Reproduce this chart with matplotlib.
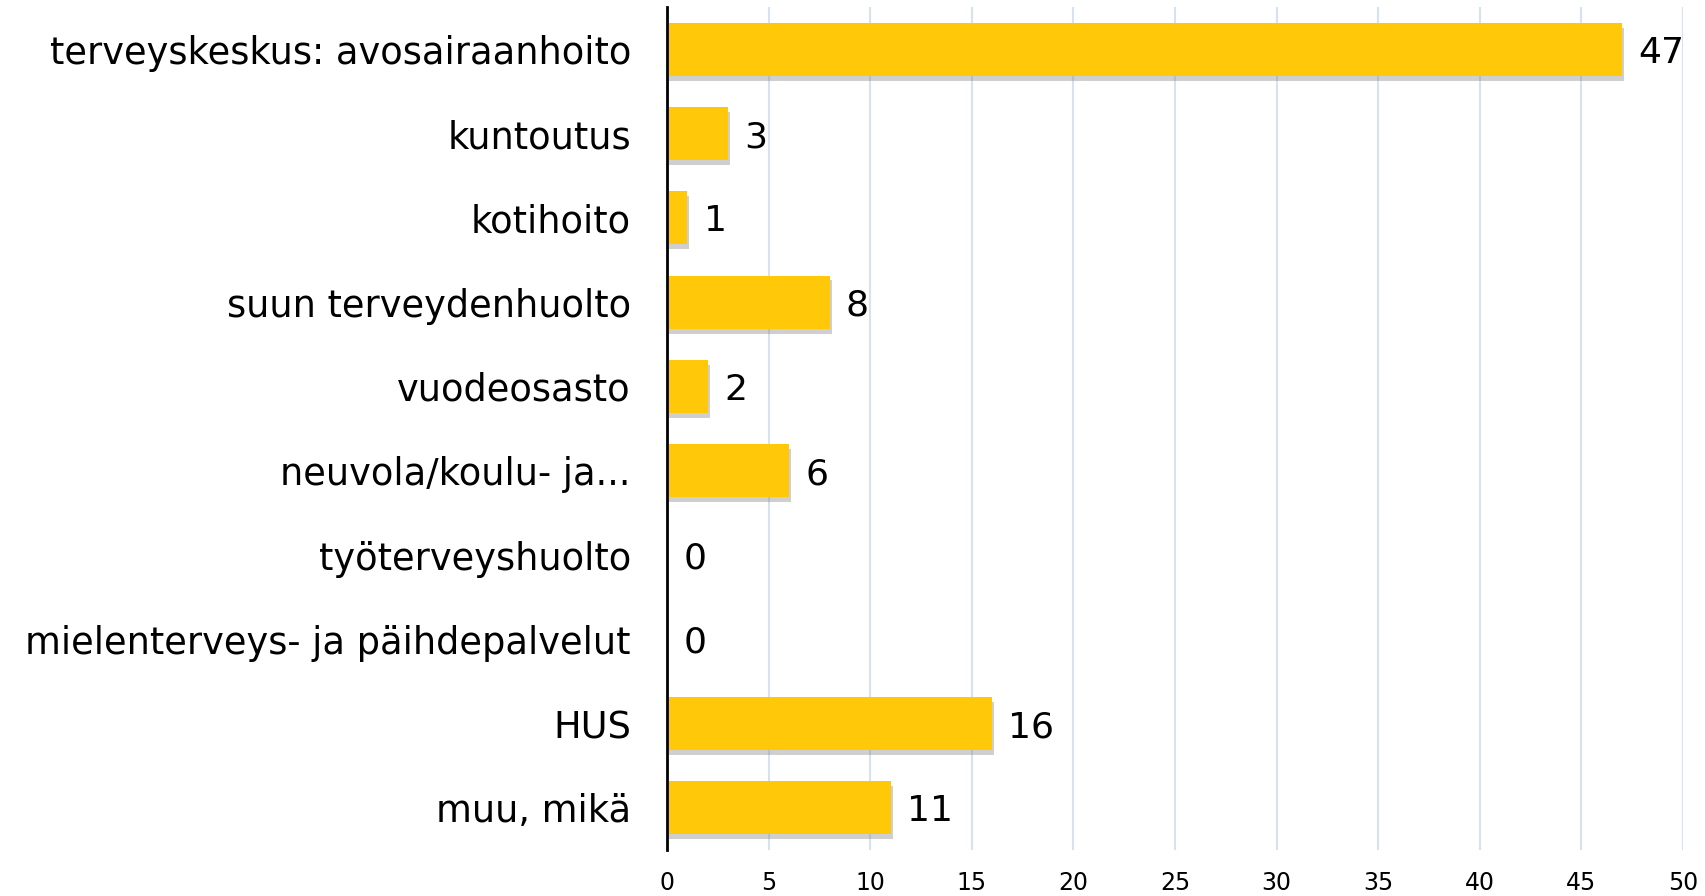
import matplotlib
matplotlib.use("Agg")
import matplotlib.pyplot as plt
import matplotlib.patheffects as pe

categories = ["terveyskeskus: avosairaanhoito", "kuntoutus", "kotihoito",
              "suun terveydenhuolto", "vuodeosasto", "neuvola/koulu- ja...",
              "työterveyshuolto", "mielenterveys- ja päihdepalvelut", "HUS", "muu, mikä"]
values = [47, 3, 1, 8, 2, 6, 0, 0, 16, 11]
xticks = [0, 5, 10, 15, 20, 25, 30, 35, 40, 45, 50]

plt.rcParams['font.family'] = ['DejaVu Sans']

fig = plt.figure(figsize=(17.06, 8.96), dpi=100)
ax = fig.add_axes([0.391, 0.0513, 0.5955, 0.9407])

ypos = list(range(len(categories)))
bars = ax.barh(ypos, values, height=0.63, color='#FFC90A', zorder=3)
for b in bars:
    b.set_path_effects([pe.SimplePatchShadow(offset=(1.5, -3.5), shadow_rgbFace='#777777', alpha=0.35), pe.Normal()])

for y, v in zip(ypos, values):
    ax.text(v + 0.8, y, str(v), va='center_baseline', ha='left', fontsize=26, color='black')

ax.set_xlim(0, 50)
ax.set_ylim(len(categories) - 0.5, -0.5)
ax.set_xticks(xticks)
ax.set_xticklabels([str(t) for t in xticks], fontsize=17)
ax.set_yticks(ypos)
ax.set_yticklabels(categories, fontsize=26.5)
ax.tick_params(axis='both', length=0)
ax.tick_params(axis='y', pad=26)
ax.tick_params(axis='x', pad=15)
ax.grid(axis='x', color='#D6E2F0', linewidth=1.5, zorder=0)
ax.set_axisbelow(True)
for s in ['top', 'right', 'bottom']:
    ax.spines[s].set_visible(False)
ax.spines['left'].set_linewidth(2)
ax.spines['left'].set_color('black')
ax.spines['left'].set_zorder(4)

fig.savefig('out.png', dpi=100)
